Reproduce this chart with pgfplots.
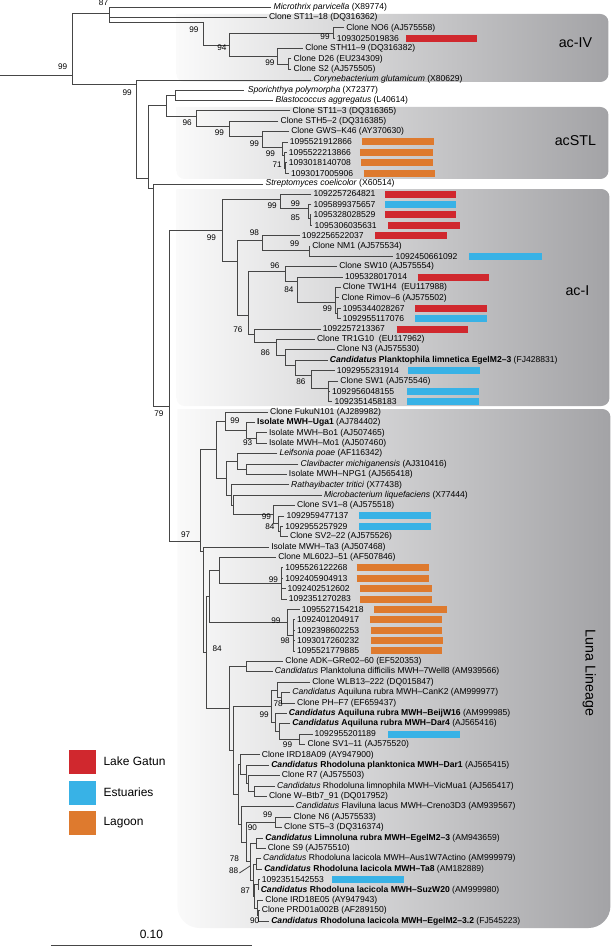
\documentclass[border=0pt]{standalone}
\usepackage{pgfplots}
\pgfplotsset{compat=1.18}
\usepackage{fontspec}
\setmainfont{Liberation Sans}
\definecolor{cred}{RGB}{208,40,46}
\definecolor{cblue}{RGB}{56,178,230}
\definecolor{corange}{RGB}{222,122,46}
\definecolor{treegray}{RGB}{70,70,70}
\definecolor{boxL}{RGB}{250,250,250}
\definecolor{boxR}{RGB}{163,163,166}
\newcommand{\lf}{\fontsize{8.6}{9}\selectfont}
\pgfplotsset{tl/.style={color=treegray, line width=0.8bp}}
\newcommand{\br}[1]{\addplot[tl] coordinates {#1};}
\newcommand{\cb}[4]{\addplot[draw=#1, line width=7bp] coordinates {(#2,#4)(#3,#4)};}
\newcommand{\lab}[3]{\node[anchor=west,inner sep=0pt,font=\lf] at (axis cs:#1,#2) {#3};}
\newcommand{\bsv}[3]{\node[inner sep=0pt,font=\fontsize{8.2}{9}\selectfont] at (axis cs:#1,#2) {#3};}
\begin{document}
\begin{tikzpicture}
\begin{axis}[width=613bp,height=947bp,scale only axis,xmin=0,xmax=613,ymin=0,ymax=947,
 y dir=reverse,axis lines=none,clip=false,ticks=none]
\path (axis cs:0,0) rectangle (axis cs:613,947);
% shaded clade boxes
\shade[left color=boxL,right color=boxR] (axis cs:176,14) [rounded corners=8bp] -- (axis cs:608,14) -- (axis cs:608,82) -- (axis cs:176,82) [sharp corners] -- cycle;
\shade[left color=boxL,right color=boxR] (axis cs:176,107) [rounded corners=8bp] -- (axis cs:608,107) -- (axis cs:608,179) -- (axis cs:176,179) [sharp corners] -- cycle;
\shade[left color=boxL,right color=boxR] (axis cs:176,189) [rounded corners=8bp] -- (axis cs:609,189) -- (axis cs:609,406) -- (axis cs:176,406) [sharp corners] -- cycle;
\shade[left color=boxL,right color=boxR] (axis cs:177,409) [rounded corners=8bp] -- (axis cs:610,409) [rounded corners=22bp] -- (axis cs:610,928) -- (axis cs:177,928) [sharp corners] -- cycle;
\node[font=\fontsize{14.3}{16}\selectfont] at (axis cs:575,43) {ac-IV};
\node[font=\fontsize{14.3}{16}\selectfont] at (axis cs:575,141) {acSTL};
\node[font=\fontsize{14.3}{16}\selectfont] at (axis cs:577,291) {ac-I};
\node[rotate=-90,font=\fontsize{14.3}{16}\selectfont] at (axis cs:589,673) {Luna Lineage};
% ---------- tree ----------
\br{(0,75)(71.7,75)}
\br{(109,13)(71.7,13)(71.7,84.3)(136,84.3)}
\br{(271,7)(109,7)(109,22)(202.7,22)}
\br{(109,17.4)(266.4,17.4)}
\br{(202.7,22)(202.7,45)(228.5,45)}
\br{(332.8,33)(228.5,33)(228.5,56.3)(276.6,56.3)}
\br{(343.7,27.8)(332.8,27.8)(332.8,38.2)(334.3,38.2)}
\br{(302.7,48.5)(276.6,48.5)(276.6,64.1)(288.3,64.1)}
\br{(291,58.9)(288.3,58.9)(288.3,69.3)(291,69.3)}
\br{(310.9,80)(136,80)(136,178.3)(148.3,178.3)}
\br{(165.7,105.7)(148.3,105.7)(148.3,188.3)(153.3,188.3)}
\br{(175,95)(165.7,95)(165.7,116)(196,116)}
\br{(243.3,90.1)(175,90.1)(175,100.5)(273,100.5)}
\br{(290,110.9)(196,110.9)(196,126.7)(229,126.7)}
\br{(278,121.2)(229,121.2)(229,136.7)(262.3,136.7)}
\br{(288.7,131.6)(262.3,131.6)(262.3,147.3)(281.7,147.3)}
\br{(287.3,142)(281.7,142)(281.7,155)(283.5,155)}
\br{(286.3,152.4)(283.5,152.4)(283.5,168)(285,168)}
\br{(286.3,162.8)(285,162.8)(285,173.2)(288.6,173.2)}
\br{(263,184)(153.3,184)(153.3,406.7)(169,406.7)}
\br{(221.7,230)(169,230)(169,541)(200.4,541)}
\br{(280,199.3)(221.7,199.3)(221.7,261.7)(237.3,261.7)}
\br{(310.9,194)(280,194)(280,208.3)(308,208.3)}
\br{(310.9,204.3)(308,204.3)(308,218)(309.5,218)}
\br{(310.9,214.7)(309.5,214.7)(309.5,225.1)(312,225.1)}
\br{(262.3,240)(237.3,240)(237.3,315)(248.3,315)}
\br{(299.2,235.5)(262.3,235.5)(262.3,250.7)(308.6,250.7)}
\br{(309.7,245.9)(308.6,245.9)(308.6,256.3)(392.9,256.3)}
\br{(285,271.7)(248.3,271.7)(248.3,334)(254,334)}
\br{(336.7,266.7)(285,266.7)(285,281.7)(296.7,281.7)}
\br{(342.5,277)(296.7,277)(296.7,302)(335.2,302)}
\br{(340.2,287.4)(335.2,287.4)(335.2,313.4)(337,313.4)}
\br{(335.2,297.8)(339,297.8)}
\br{(340.2,308.2)(337,308.2)(337,318.6)(340.2,318.6)}
\br{(320.3,329.3)(254,329.3)(254,342.7)(276,342.7)}
\br{(314.4,339.4)(276,339.4)(276,355)(285,355)}
\br{(334.3,349.7)(285,349.7)(285,365)(295,365)}
\br{(327.3,360.1)(295,360.1)(295,375)(310.5,375)}
\br{(334.3,370.5)(310.5,370.5)(310.5,388)(328,388)}
\br{(337.8,380.9)(328,380.9)(328,401.7)(332,401.7)}
\br{(328,391.3)(329.6,391.3)}
% Luna
\br{(215.6,449.7)(200.4,449.7)(200.4,551)(203,551)}
\br{(225,421.2)(215.6,421.2)(215.6,478.2)(226.2,478.2)}
\br{(267.5,412.1)(225,412.1)(225,430.2)(246.1,430.2)}
\br{(254.6,422.4)(246.1,422.4)(246.1,438)(255.5,438)}
\br{(266.4,432.8)(255.5,432.8)(255.5,443.2)(266.4,443.2)}
\br{(236.7,461.4)(226.2,461.4)(226.2,494.9)(230.9,494.9)}
\br{(276.9,453.6)(236.7,453.6)(236.7,469.2)(246.1,469.2)}
\br{(298,464)(246.1,464)(246.1,474.4)(286.3,474.4)}
\br{(288.6,484.8)(230.9,484.8)(230.9,504.9)(233.2,504.9)}
\br{(321.4,495.1)(233.2,495.1)(233.2,514.6)(273.1,514.6)}
\br{(294.5,505.5)(273.1,505.5)(273.1,523.7)(277.7,523.7)}
\br{(283.9,515.9)(277.7,515.9)(277.7,531.5)(280.1,531.5)}
\br{(282.8,526.3)(280.1,526.3)(280.1,536.7)(287.5,536.7)}
\br{(268.7,547.1)(203,547.1)(203,652.5)(206.3,652.5)}
\br{(208.6,596.5)(206.3,596.5)(206.3,708.4)(228.5,708.4)}
\br{(219.2,570.5)(208.6,570.5)(208.6,622.4)(287.1,622.4)}
\br{(275.7,557.5)(219.2,557.5)(219.2,583.4)(281.3,583.4)}
\br{(282.8,567.8)(281.3,567.8)(281.3,599)(286.3,599)}
\br{(281.3,578.2)(282.8,578.2)}
\br{(281.3,588.6)(285.1,588.6)}
\br{(299.2,609.4)(287.1,609.4)(287.1,635.4)(293,635.4)}
\br{(294.5,619.8)(293,619.8)(293,650.9)(294.5,650.9)}
\br{(293,630.2)(294.5,630.2)}
\br{(293,640.5)(294.5,640.5)}
\br{(246.1,666.5)(228.5,666.5)(228.5,750.3)(233.2,750.3)}
\br{(282.8,661.3)(246.1,661.3)(246.1,671.7)(272.2,671.7)}
\br{(270.7,706.1)(233.2,706.1)(233.2,794.5)(237.9,794.5)}
\br{(276.6,689.9)(270.7,689.9)(270.7,722.3)(275.4,722.3)}
\br{(309.7,682.1)(276.6,682.1)(276.6,697.7)(281.3,697.7)}
\br{(289.8,692.5)(281.3,692.5)(281.3,702.9)(294.5,702.9)}
\br{(286.3,713.2)(275.4,713.2)(275.4,731.4)(278.9,731.4)}
\br{(289.8,723.6)(278.9,723.6)(278.9,739.2)(298.8,739.2)}
\br{(312.1,734)(298.8,734)(298.8,744.4)(305,744.4)}
\br{(240.2,764.6)(237.9,764.6)(237.9,824.3)(241.4,824.3)}
\br{(259.3,754.8)(240.2,754.8)(240.2,774.3)(246.1,774.3)}
\br{(268.7,765.2)(246.1,765.2)(246.1,783.4)(248.4,783.4)}
\br{(279.3,775.6)(248.4,775.6)(248.4,791.1)(254.3,791.1)}
\br{(274.6,785.9)(254.3,785.9)(254.3,796.3)(266.4,796.3)}
\br{(293.3,806.7)(241.4,806.7)(241.4,842)(246.1,842)}
\br{(275.4,822.3)(246.1,822.3)(246.1,861.6)(249.6,861.6)}
\br{(291,817.1)(275.4,817.1)(275.4,827.5)(281.6,827.5)}
\br{(255.5,843.1)(249.6,843.1)(249.6,880.1)(253.1,880.1)}
\br{(262.8,837.9)(255.5,837.9)(255.5,848.3)(265.2,848.3)}
\br{(255.5,863.9)(253.1,863.9)(253.1,896.3)(254.3,896.3)}
\br{(260.5,858.7)(255.5,858.7)(255.5,869)(261.7,869)}
\br{(257.8,884.6)(254.3,884.6)(254.3,908)(256.6,908)}
\br{(259.3,879.4)(257.8,879.4)(257.8,889.8)(258.2,889.8)}
\br{(262.8,900.2)(256.6,900.2)(256.6,915.8)(257.8,915.8)}
\br{(259.3,910.6)(257.8,910.6)(257.8,921)(268.7,921)}
\br{(239,873)(249.6,866)}
% ---------- bars ----------
\cb{cred}{405.5}{477}{38.2}
\cb{corange}{362}{433.6}{142}
\cb{corange}{359.8}{432.4}{152.4}
\cb{corange}{361}{432.4}{162.8}
\cb{corange}{363.3}{434.8}{173.2}
\cb{cred}{384.4}{455.9}{194}
\cb{cblue}{384.4}{455.9}{204.3}
\cb{cred}{384.4}{455.9}{214.7}
\cb{cred}{387.9}{459.4}{225.1}
\cb{cred}{375}{446.5}{235.5}
\cb{cblue}{468.8}{541.4}{256.3}
\cb{cred}{417.2}{488.7}{277}
\cb{cred}{414.9}{486.3}{308.2}
\cb{cblue}{414.9}{486.3}{318.6}
\cb{cred}{396.1}{467.6}{329}
\cb{cblue}{407.8}{479.3}{370.5}
\cb{cblue}{406.7}{478.1}{391.3}
\cb{cblue}{406.7}{478.1}{401.7}
\cb{cblue}{358.6}{430.1}{515.9}
\cb{cblue}{358.6}{430.1}{526.3}
\cb{corange}{356.3}{428.9}{567.8}
\cb{corange}{356.3}{428.9}{578.2}
\cb{corange}{359.8}{431.3}{588.6}
\cb{corange}{359.8}{431.3}{599}
\cb{corange}{373.8}{446.5}{609.4}
\cb{corange}{369.2}{441.8}{619.8}
\cb{corange}{370.3}{441.8}{630.2}
\cb{corange}{370.3}{443}{640.5}
\cb{corange}{370.3}{441.8}{650.9}
\cb{cblue}{387.9}{459.4}{734}
\cb{cblue}{331.6}{403.1}{879.4}
% ---------- leaf labels ----------
\lab{273.1}{7}{\textit{Microthrix parvicella} (X89774)}
\lab{268.4}{17.4}{Clone ST11--18 (DQ316362)}
\lab{345.7}{27.8}{Clone NO6 (AJ575558)}
\lab{336.3}{38.2}{1093025019836}
\lab{304.7}{48.5}{Clone STH11--9 (DQ316382)}
\lab{293}{58.9}{Clone D26 (EU234309)}
\lab{293}{69.3}{Clone S2 (AJ575505)}
\lab{312.9}{79.7}{\textit{Corynebacterium glutamicum} (X80629)}
\lab{247.3}{90.1}{\textit{Sporichthya polymorpha} (X72377)}
\lab{275}{100.5}{\textit{Blastococcus aggregatus} (L40614)}
\lab{292}{110.9}{Clone ST11--3 (DQ316365)}
\lab{280}{121.2}{Clone STH5--2 (DQ316385)}
\lab{290.7}{131.6}{Clone GWS--K46 (AY370630)}
\lab{289.3}{142}{1095521912866}
\lab{288.3}{152.4}{1095522213866}
\lab{288.3}{162.8}{1093018140708}
\lab{290.6}{173.2}{1093017005906}
\lab{265}{183.6}{\textit{Streptomyces coelicolor} (X60514)}
\lab{312.9}{194}{1092257264821}
\lab{312.9}{204.3}{1095899375657}
\lab{312.9}{214.7}{1095328028529}
\lab{314.1}{225.1}{1095306035631}
\lab{301.2}{235.5}{1092256522037}
\lab{311.7}{245.9}{Clone NM1 (AJ575534)}
\lab{394.9}{256.3}{1092450661092}
\lab{338.7}{266.7}{Clone SW10 (AJ575554)}
\lab{344.5}{277}{1095328017014}
\lab{342.2}{287.4}{Clone TW1H4\ \ (EU117988)}
\lab{341}{297.8}{Clone Rimov--6 (AJ575502)}
\lab{342.2}{308.2}{1095344028267}
\lab{342.2}{318.6}{1092955117076}
\lab{322.3}{329}{1092257213367}
\lab{316.4}{339.4}{Clone TR1G10\ \ (EU117962)}
\lab{336.3}{349.7}{Clone N3 (AJ575530)}
\lab{329.3}{360.1}{\textbf{\textit{Candidatus} Planktophila limnetica EgelM2--3} (FJ428831)}
\lab{336.3}{370.5}{1092955231914}
\lab{339.8}{380.9}{Clone SW1 (AJ575546)}
\lab{331.6}{391.3}{1092956048155}
\lab{334}{401.7}{1092351458183}
\lab{269.5}{412.1}{Clone FukuN101 (AJ289982)}
\lab{256.6}{422.4}{\textbf{Isolate MWH--Uga1} (AJ784402)}
\lab{268.4}{432.8}{Isolate MWH--Bo1 (AJ507465)}
\lab{268.4}{443.2}{Isolate MWH--Mo1 (AJ507460)}
\lab{278.9}{453.6}{\textit{Leifsonia poae} (AF116342)}
\lab{300}{464}{\textit{Clavibacter michiganensis} (AJ310416)}
\lab{288.3}{474.4}{Isolate MWH--NPG1 (AJ565418)}
\lab{290.6}{484.8}{\textit{Rathayibacter tritici} (X77438)}
\lab{323.4}{495.1}{\textit{Microbacterium liquefaciens} (X77444)}
\lab{296.5}{505.5}{Clone SV1--8 (AJ575518)}
\lab{285.9}{515.9}{1092959477137}
\lab{284.8}{526.3}{1092955257929}
\lab{289.5}{536.7}{Clone SV2--22 (AJ575526)}
\lab{270.7}{547.1}{Isolate MWH--Ta3 (AJ507468)}
\lab{277.7}{557.5}{Clone ML602J--51 (AF507846)}
\lab{284.8}{567.8}{1095526122268}
\lab{284.8}{578.2}{1092405904913}
\lab{287.1}{588.6}{1092402512602}
\lab{288.3}{599}{1092351270283}
\lab{301.2}{609.4}{1095527154218}
\lab{296.5}{619.8}{1092401204917}
\lab{296.5}{630.2}{1092398602253}
\lab{296.5}{640.5}{1093017260232}
\lab{296.5}{650.9}{1095521779885}
\lab{284.8}{661.3}{Clone ADK--GRe02--60 (EF520353)}
\lab{274.2}{671.7}{\textit{Candidatus} Planktoluna difficilis MWH--7Well8 (AM939566)}
\lab{311.7}{682.1}{Clone WLB13--222 (DQ015847)}
\lab{291.8}{692.5}{\textit{Candidatus} Aquiluna rubra MWH--CanK2 (AM999977)}
\lab{296.5}{702.9}{Clone PH--F7 (EF659437)}
\lab{288.3}{713.2}{\textbf{\textit{Candidatus} Aquiluna rubra MWH--BeijW16} (AM999985)}
\lab{291.8}{723.6}{\textbf{\textit{Candidatus} Aquiluna rubra MWH--Dar4} (AJ565416)}
\lab{314.1}{734}{1092955201189}
\lab{307}{744.4}{Clone SV1--11 (AJ575520)}
\lab{261.3}{754.8}{Clone IRD18A09 (AY947900)}
\lab{270.7}{765.2}{\textbf{\textit{Candidatus} Rhodoluna planktonica MWH--Dar1} (AJ565415)}
\lab{281.3}{775.6}{Clone R7 (AJ575503)}
\lab{276.6}{785.9}{\textit{Candidatus} Rhodoluna limnophila MWH--VicMua1 (AJ565417)}
\lab{268.4}{796.3}{Clone W--Btb7\_91 (DQ017952)}
\lab{295.3}{806.7}{\textit{Candidatus} Flaviluna lacus MWH--Creno3D3 (AM939567)}
\lab{293}{817.1}{Clone N6 (AJ575533)}
\lab{283.6}{827.5}{Clone ST5--3 (DQ316374)}
\lab{264.8}{837.9}{\textbf{\textit{Candidatus} Limnoluna rubra MWH--EgelM2--3} (AM943659)}
\lab{267.2}{848.3}{Clone S9 (AJ575510)}
\lab{262.5}{858.7}{\textit{Candidatus} Rhodoluna lacicola MWH--Aus1W7Actino (AM999979)}
\lab{263.7}{869}{\textbf{\textit{Candidatus} Rhodoluna lacicola MWH--Ta8} (AM182889)}
\lab{261.3}{879.4}{1092351542553}
\lab{260.2}{889.8}{\textbf{\textit{Candidatus} Rhodoluna lacicola MWH--SuzW20} (AM999980)}
\lab{264.8}{900.2}{Clone IRD18E05 (AY947943)}
\lab{261.3}{910.6}{Clone PRD01a002B (AF289150)}
\lab{270.7}{921}{\textbf{\textit{Candidatus} Rhodoluna lacicola MWH--EgelM2--3.2} (FJ545223)}
% ---------- bootstrap values ----------
\bsv{103.1}{3}{87}\bsv{193.4}{30}{99}\bsv{221.5}{48}{94}\bsv{324.6}{37}{99}\bsv{269.5}{63}{99}\bsv{62.3}{67}{99}
\bsv{126.7}{93}{99}\bsv{186.7}{123}{96}\bsv{219}{133}{99}\bsv{254}{143.5}{99}\bsv{270}{153.5}{99}\bsv{276.7}{165}{71}
\bsv{271.7}{206}{99}\bsv{295}{204}{99}\bsv{295}{217.5}{85}\bsv{254}{233}{98}\bsv{211}{237.3}{99}\bsv{294.2}{244}{99}
\bsv{274.5}{266}{96}\bsv{288.5}{289.3}{84}\bsv{327}{309}{99}\bsv{237.5}{330}{76}\bsv{265}{352.5}{86}\bsv{300.5}{382}{86}
\bsv{158.5}{414}{79}\bsv{234.4}{421}{99}\bsv{247.3}{443}{93}\bsv{266}{517}{99}\bsv{269.5}{527}{84}\bsv{185.2}{535}{97}
\bsv{273}{580}{99}\bsv{275.4}{621}{99}\bsv{284.8}{641}{98}\bsv{216.8}{649}{84}\bsv{277.7}{704}{78}\bsv{263.7}{715}{99}
\bsv{287.1}{745}{99}\bsv{267.2}{815}{99}\bsv{252}{828}{90}\bsv{234}{859}{78}\bsv{233.2}{871}{88}\bsv{245}{891}{87}
\bsv{254.3}{921}{90}
% ---------- legend ----------
\addplot[draw=cred,line width=24bp] coordinates {(69,761.5)(96,761.5)};
\addplot[draw=cblue,line width=24bp] coordinates {(69,792.5)(96,792.5)};
\addplot[draw=corange,line width=24bp] coordinates {(69,823)(96,823)};
\node[anchor=west,inner sep=0pt,font=\fontsize{12}{14}\selectfont] at (axis cs:103,761.5) {Lake Gatun};
\node[anchor=west,inner sep=0pt,font=\fontsize{12}{14}\selectfont] at (axis cs:103,792.5) {Estuaries};
\node[anchor=west,inner sep=0pt,font=\fontsize{12}{14}\selectfont] at (axis cs:103,823) {Lagoon};
% ---------- scale bar ----------
\addplot[tl,line width=1bp] coordinates {(50.4,945)(252,945)};
\node[font=\fontsize{12}{14}\selectfont] at (axis cs:151,934) {0.10};
\end{axis}
\end{tikzpicture}
\end{document}
